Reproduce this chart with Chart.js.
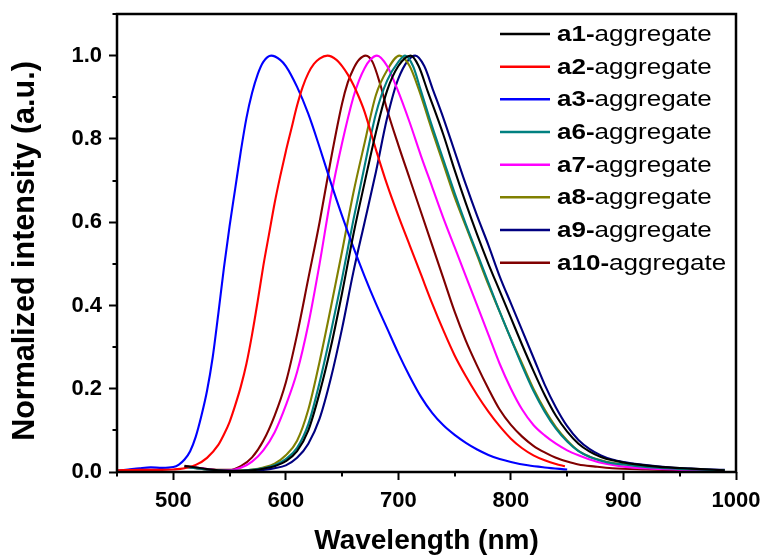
<!DOCTYPE html>
<html>
<head>
<meta charset="utf-8">
<script src="https://cdn.jsdelivr.net/npm/chart.js@4/dist/chart.umd.min.js"></script>
<style>
html,body{margin:0;padding:0;background:#ffffff;}
#wrap{width:763px;height:556px;}
</style>
</head>
<body>
<div id="wrap"><canvas id="c" width="763" height="556"></canvas></div>
<script>
// ---- Data ----
const seriesNames = ['a1', 'a2', 'a3', 'a6', 'a7', 'a8', 'a9', 'a10'];
const seriesColors = ['#000000', '#ff0000', '#0000ff', '#008080', '#ff00ff', '#808000', '#000080', '#800000'];

const a1Wl  = [510,520,530,540,550,560,570,580,590,600,610,620,630,640,650,660,670,680,690,700,711,718,726,740,750,760,770,780,790,800,810,820,830,840,850,860,870,880,890,900,910,930,960,990];
const a1Int = [0.014,0.011,0.007,0.004,0.003,0.003,0.004,0.008,0.014,0.026,0.05,0.1,0.19,0.3,0.43,0.57,0.695,0.815,0.916,0.975,1.0,0.975,0.915,0.81,0.725,0.645,0.57,0.5,0.435,0.37,0.305,0.243,0.185,0.135,0.097,0.068,0.049,0.036,0.028,0.023,0.019,0.013,0.008,0.004];

const a2Wl  = [450,470,490,500,510,520,530,540,545,550,555,560,565,570,575,580,585,590,595,600,605,610,615,620,625,630,637,645,650,655,660,665,670,680,690,700,710,720,730,740,750,760,770,780,790,800,810,820,830,840,848];
const a2Int = [0.004,0.005,0.005,0.006,0.009,0.017,0.034,0.065,0.09,0.12,0.16,0.205,0.26,0.33,0.41,0.495,0.57,0.645,0.71,0.77,0.825,0.88,0.925,0.958,0.98,0.993,1.0,0.99,0.975,0.955,0.93,0.9,0.865,0.775,0.69,0.615,0.545,0.475,0.405,0.34,0.28,0.23,0.185,0.145,0.11,0.08,0.057,0.04,0.028,0.019,0.014];

const a3Wl  = [450,460,470,480,490,500,505,510,515,520,525,530,535,540,545,550,555,560,565,570,575,580,587,595,600,610,620,630,640,650,660,670,680,690,700,710,720,730,740,750,760,770,780,790,800,815,830,850];
const a3Int = [0.003,0.006,0.009,0.011,0.01,0.012,0.018,0.03,0.05,0.085,0.135,0.195,0.275,0.38,0.49,0.59,0.68,0.77,0.85,0.91,0.955,0.985,1.0,0.99,0.975,0.925,0.86,0.78,0.695,0.615,0.54,0.47,0.405,0.345,0.285,0.23,0.181,0.142,0.112,0.089,0.07,0.054,0.041,0.031,0.024,0.016,0.011,0.006];

const a6Wl  = [510,520,530,540,550,560,570,580,590,600,610,620,630,640,650,660,670,680,690,700,706,713,720,730,740,750,760,770,780,790,800,810,820,830,840,850,860,870,880,890,900,925,955,990];
const a6Int = [0.012,0.009,0.006,0.004,0.003,0.003,0.005,0.009,0.016,0.031,0.058,0.115,0.215,0.335,0.465,0.605,0.735,0.86,0.94,0.985,1.0,0.975,0.916,0.83,0.75,0.67,0.595,0.525,0.455,0.385,0.32,0.255,0.195,0.145,0.104,0.073,0.05,0.036,0.027,0.021,0.018,0.011,0.007,0.004];

const a7Wl  = [510,520,530,540,550,560,570,580,590,600,610,620,630,640,650,660,665,670,675,681,690,699,710,720,730,740,750,760,770,780,790,800,810,820,830,840,850,860,870,880,900,925,955,990];
const a7Int = [0.012,0.01,0.007,0.004,0.004,0.01,0.025,0.052,0.095,0.16,0.24,0.355,0.5,0.66,0.79,0.9,0.94,0.97,0.99,1.0,0.975,0.92,0.84,0.76,0.685,0.61,0.54,0.47,0.4,0.33,0.26,0.2,0.15,0.113,0.088,0.068,0.052,0.04,0.03,0.022,0.013,0.008,0.005,0.003];

const a8Wl  = [510,520,530,540,550,560,570,580,590,600,610,620,630,640,650,660,670,680,690,701,710,718,730,740,750,760,770,780,790,800,810,820,830,840,850,860,870,880,890,900,925,955,990];
const a8Int = [0.012,0.009,0.006,0.004,0.003,0.004,0.006,0.011,0.02,0.04,0.075,0.15,0.265,0.395,0.53,0.67,0.79,0.905,0.965,1.0,0.975,0.92,0.82,0.74,0.66,0.59,0.52,0.45,0.385,0.32,0.26,0.2,0.15,0.108,0.076,0.051,0.037,0.028,0.022,0.019,0.012,0.007,0.004];

const a9Wl  = [510,520,530,540,550,560,570,580,590,600,610,620,630,640,650,660,670,680,690,700,715,723,731,740,750,760,770,780,790,800,810,820,830,840,850,860,870,880,890,900,910,930,960,990];
const a9Int = [0.013,0.01,0.006,0.004,0.003,0.002,0.003,0.005,0.009,0.016,0.034,0.068,0.128,0.225,0.345,0.48,0.6,0.72,0.85,0.945,1.0,0.975,0.916,0.85,0.77,0.69,0.615,0.545,0.47,0.405,0.34,0.275,0.21,0.155,0.11,0.077,0.055,0.04,0.03,0.024,0.02,0.014,0.008,0.005];

const a10Wl  = [510,520,530,540,550,560,570,580,590,600,610,620,630,640,650,655,660,665,671,677,684,690,700,710,720,730,740,750,760,770,780,790,800,810,820,830,840,850,860,875,890,920,950,990];
const a10Int = [0.015,0.011,0.007,0.005,0.005,0.014,0.035,0.075,0.135,0.215,0.33,0.465,0.6,0.75,0.885,0.935,0.968,0.99,1.0,0.985,0.93,0.87,0.785,0.705,0.625,0.545,0.465,0.385,0.315,0.255,0.2,0.15,0.113,0.085,0.063,0.047,0.034,0.025,0.018,0.013,0.009,0.006,0.004,0.003];

const xMajorTicks = [500, 600, 700, 800, 900, 1000];
const xMinorTicks = [450, 550, 650, 750, 850, 950];
const yMajorTicks = [0.0, 0.2, 0.4, 0.6, 0.8, 1.0];
const yMinorTicks = [0.1, 0.3, 0.5, 0.7, 0.9, 1.1];

const xTitle = 'Wavelength (nm)';
const yTitle = 'Normalized intensity (a.u.)';
const legendSuffix = 'aggregate';

// ---- Build datasets ----
const wlArrays  = [a1Wl, a2Wl, a3Wl, a6Wl, a7Wl, a8Wl, a9Wl, a10Wl];
const intArrays = [a1Int, a2Int, a3Int, a6Int, a7Int, a8Int, a9Int, a10Int];

const datasets = seriesNames.map((name, i) => ({
  label: name + '-' + legendSuffix,
  data: wlArrays[i].map((w, k) => ({x: w, y: intArrays[i][k]})),
  borderColor: seriesColors[i],
  backgroundColor: seriesColors[i],
  borderWidth: 2.1,
  pointRadius: 0,
  fill: false,
  cubicInterpolationMode: 'monotone'
}));

const FONT = '"Liberation Sans", Arial, Helvetica, sans-serif';
const isMajor = (v, list) => list.some(m => Math.abs(m - v) < 1e-6);

// Frame, minor ticks and the vertical axis title
const framePlugin = {
  id: 'framePlugin',
  afterDraw(chart) {
    const {ctx, chartArea: a} = chart;
    const xs = chart.scales.x, ys = chart.scales.y;
    ctx.save();
    ctx.strokeStyle = '#000';
    ctx.lineWidth = 2;
    ctx.beginPath();
    xMinorTicks.forEach(v => {
      const px = Math.round(xs.getPixelForValue(v));
      ctx.moveTo(px, a.bottom);
      ctx.lineTo(px, a.bottom + 4.5);
    });
    yMinorTicks.forEach(v => {
      const py = Math.round(ys.getPixelForValue(v));
      ctx.moveTo(a.left, py);
      ctx.lineTo(a.left - 4.5, py);
    });
    ctx.stroke();
    ctx.lineWidth = 2.5;
    ctx.strokeRect(a.left, a.top, a.right - a.left, a.bottom - a.top);

    // y-axis title (slightly below the plot centre, as in the reference)
    ctx.translate(ys.left + 26, (a.top + a.bottom) / 2 + 8);
    ctx.rotate(-Math.PI / 2);
    ctx.fillStyle = '#000';
    ctx.font = 'bold 30.5px ' + FONT;
    ctx.textAlign = 'center';
    ctx.textBaseline = 'middle';
    ctx.fillText(yTitle, 0, 0);
    ctx.restore();
  }
};

// Legend: bold sample name + normal suffix
const legendPlugin = {
  id: 'legendPlugin',
  afterDraw(chart) {
    const {ctx, chartArea: a} = chart;
    const lineX0 = a.right - 236;
    const lineX1 = lineX0 + 50;
    const textX = lineX1 + 7;
    const rowY0 = a.top + 20;
    const rowStep = 32.67;
    chart.data.datasets.forEach((ds, i) => {
      const y = rowY0 + i * rowStep;
      ctx.save();
      ctx.strokeStyle = ds.borderColor;
      ctx.lineWidth = 2.5;
      ctx.beginPath();
      ctx.moveTo(lineX0, y);
      ctx.lineTo(lineX1, y);
      ctx.stroke();
      ctx.translate(textX, y + 7);
      ctx.scale(1.21, 1);
      ctx.fillStyle = '#000';
      ctx.textBaseline = 'alphabetic';
      ctx.textAlign = 'left';
      const boldPart = seriesNames[i] + '-';
      ctx.font = 'bold 21.5px ' + FONT;
      ctx.fillText(boldPart, 0, 0);
      const w = ctx.measureText(boldPart).width;
      ctx.font = '21.5px ' + FONT;
      ctx.fillText(legendSuffix, w, 0);
      ctx.restore();
    });
  }
};

new Chart(document.getElementById('c'), {
  type: 'line',
  data: { datasets },
  options: {
    responsive: false,
    animation: false,
    devicePixelRatio: 1,
    layout: { padding: { left: 0, right: 27, top: 14, bottom: 0 } },
    plugins: { legend: { display: false }, tooltip: { enabled: false } },
    scales: {
      x: {
        type: 'linear',
        min: 450, max: 1000,
        border: { display: false },
        grid: {
          drawOnChartArea: false, drawTicks: true, tickLength: 8, tickWidth: 2,
          tickColor: c => (c.tick && isMajor(c.tick.value, xMajorTicks)) ? '#000' : 'rgba(0,0,0,0)'
        },
        ticks: {
          stepSize: 50, autoSkip: false, maxRotation: 0, padding: 8,
          color: '#000', font: { family: FONT, size: 22, weight: 'bold' },
          callback: v => isMajor(v, xMajorTicks) ? String(v) : ''
        },
        title: {
          display: true, text: xTitle, color: '#000',
          font: { family: FONT, size: 28, weight: 'bold', lineHeight: 1.05 },
          padding: { top: 0, bottom: 0 }
        },
        afterFit: s => { s.height = 84; s.paddingLeft = 0; s.paddingRight = 0; }
      },
      y: {
        min: 0, max: 1.1,
        border: { display: false },
        grid: {
          drawOnChartArea: false, drawTicks: true, tickLength: 8, tickWidth: 2,
          tickColor: c => (c.tick && isMajor(c.tick.value, yMajorTicks)) ? '#000' : 'rgba(0,0,0,0)'
        },
        ticks: {
          stepSize: 0.1, autoSkip: false, padding: 7,
          color: '#000', font: { family: FONT, size: 22, weight: 'bold' },
          callback: v => isMajor(v, yMajorTicks) ? v.toFixed(1) : ''
        },
        title: { display: false, text: yTitle },
        afterFit: s => { s.width = 117; s.paddingTop = 0; s.paddingBottom = 0; }
      }
    }
  },
  plugins: [framePlugin, legendPlugin]
});
</script>
</body>
</html>
